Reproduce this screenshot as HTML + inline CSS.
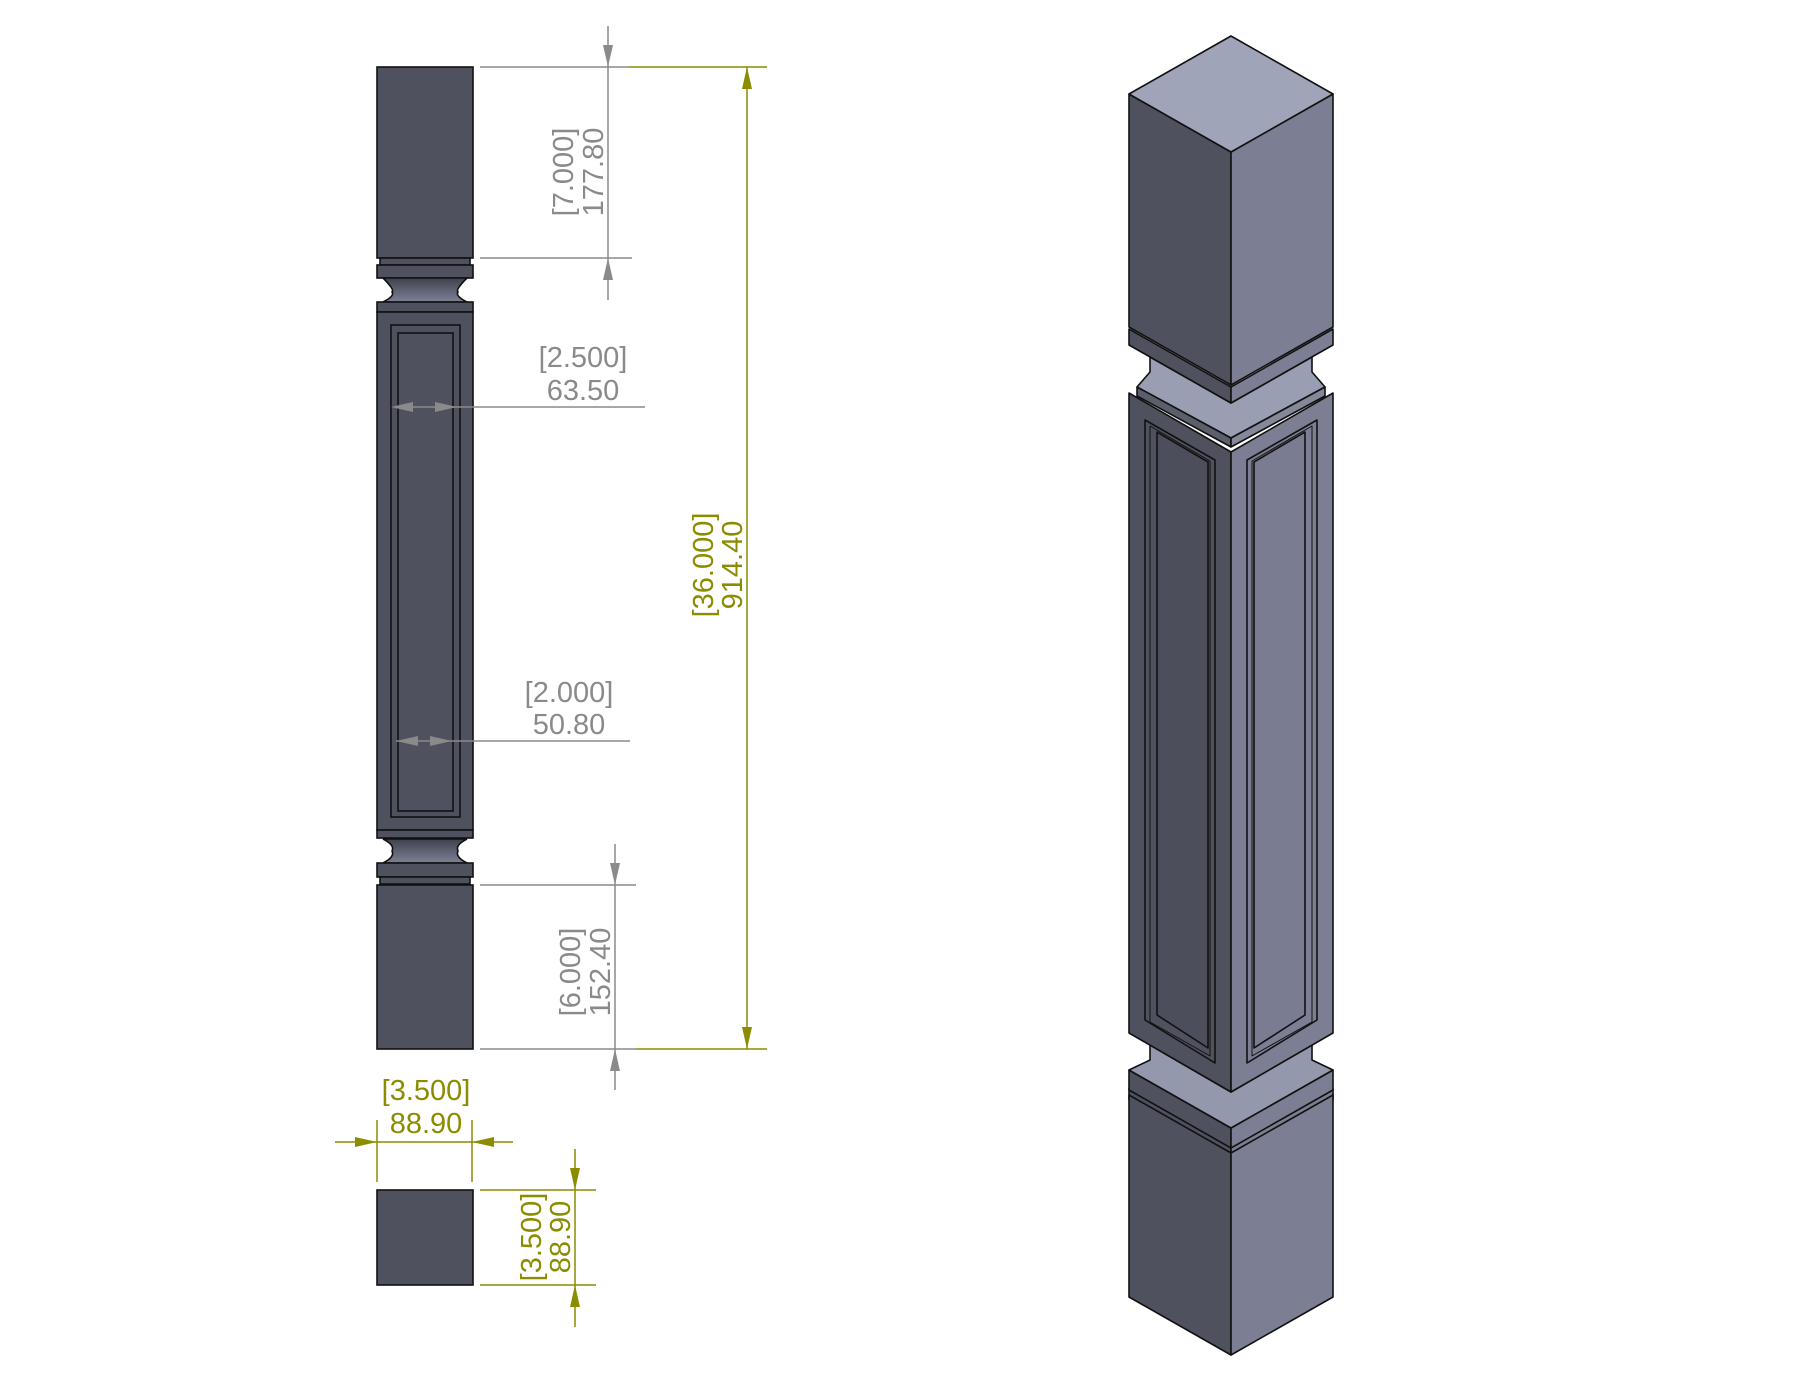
<!DOCTYPE html>
<html><head><meta charset="utf-8"><style>
html,body{margin:0;padding:0;background:#fff;}
svg{display:block;}
text{font-family:"Liberation Sans",sans-serif;font-size:29px;}
.g{fill:#8a8a8a;}
.o{fill:#8c8c00;}
</style></head><body>
<svg width="1800" height="1391" viewBox="0 0 1800 1391" xmlns="http://www.w3.org/2000/svg">
<defs>
<linearGradient id="neck" x1="0" y1="0" x2="0" y2="1"><stop offset="0" stop-color="#3f424d"/><stop offset="1" stop-color="#7d8196"/></linearGradient>
</defs>
<!-- LEFT POST -->
<g stroke="#111" stroke-width="1.6" fill="#4f525e">
<rect x="377" y="67" width="96" height="191"/>
<rect x="380" y="258" width="90" height="7"/>
<rect x="377" y="265" width="96" height="13"/>
<path d="M383 278 L467 278 Q455 290 458 292 Q455 296 467 302 L383 302 Q395 296 392 292 Q395 290 383 278 Z" fill="url(#neck)"/>
<rect x="377" y="302" width="96" height="10"/>
<rect x="377" y="312" width="96" height="518"/>
<rect x="391" y="325" width="69" height="492"/>
<rect x="398" y="333" width="55" height="478"/>
<rect x="377" y="830" width="96" height="8"/>
<path d="M383 839 Q395 845 392 851 Q395 857 383 863 L467 863 Q455 857 458 851 Q455 845 467 839 Z" fill="url(#neck)"/>
<rect x="377" y="863" width="96" height="14"/>
<rect x="380" y="877" width="90" height="7"/>
<rect x="377" y="885" width="96" height="164"/>
<rect x="377" y="1190" width="96" height="95"/>
</g>
<!-- gray dims -->
<g stroke="#8a8a8a" stroke-width="1.5" fill="none">
<line x1="480" y1="67" x2="629" y2="67"/>
<line x1="480" y1="258" x2="632" y2="258"/>
<line x1="608" y1="26" x2="608" y2="300"/>
<line x1="396" y1="407" x2="645" y2="407"/>
<line x1="396" y1="741" x2="630" y2="741"/>
<line x1="480" y1="885" x2="636" y2="885"/>
<line x1="480" y1="1049" x2="636" y2="1049"/>
<line x1="615" y1="844" x2="615" y2="1090"/>
</g>
<g fill="#8a8a8a">
<polygon points="608,67 603,45 613,45"/>
<polygon points="608,258 603,280 613,280"/>
<polygon points="391,407 413,402 413,412"/>
<polygon points="457,407 435,402 435,412"/>
<polygon points="396,741 418,736 418,746"/>
<polygon points="452,741 430,736 430,746"/>
<polygon points="615,885 610,863 620,863"/>
<polygon points="615,1049 610,1071 620,1071"/>
</g>
<!-- olive dims -->
<g stroke="#8c8c00" stroke-width="1.5" fill="none">
<line x1="629" y1="67" x2="767" y2="67"/>
<line x1="636" y1="1049" x2="767" y2="1049"/>
<line x1="747" y1="67" x2="747" y2="1049"/>
<line x1="335" y1="1142" x2="513" y2="1142"/>
<line x1="377" y1="1120" x2="377" y2="1182"/>
<line x1="472" y1="1120" x2="472" y2="1182"/>
<line x1="480" y1="1190" x2="596" y2="1190"/>
<line x1="480" y1="1285" x2="596" y2="1285"/>
<line x1="575" y1="1149" x2="575" y2="1327"/>
</g>
<g fill="#8c8c00">
<polygon points="747,67 742,89 752,89"/>
<polygon points="747,1049 742,1027 752,1027"/>
<polygon points="377,1142 355,1137 355,1147"/>
<polygon points="472,1142 494,1137 494,1147"/>
<polygon points="575,1190 570,1168 580,1168"/>
<polygon points="575,1285 570,1307 580,1307"/>
</g>
<!-- text -->
<text class="g" transform="translate(573,172) rotate(-90)" text-anchor="middle">[7.000]</text>
<text class="g" transform="translate(603,172) rotate(-90)" text-anchor="middle">177.80</text>
<text class="g" x="583" y="367" text-anchor="middle">[2.500]</text>
<text class="g" x="583" y="400" text-anchor="middle">63.50</text>
<text class="g" x="569" y="702" text-anchor="middle">[2.000]</text>
<text class="g" x="569" y="734" text-anchor="middle">50.80</text>
<text class="g" transform="translate(580,972) rotate(-90)" text-anchor="middle">[6.000]</text>
<text class="g" transform="translate(610,972) rotate(-90)" text-anchor="middle">152.40</text>
<text class="o" transform="translate(713,565) rotate(-90)" text-anchor="middle">[36.000]</text>
<text class="o" transform="translate(742,565) rotate(-90)" text-anchor="middle">914.40</text>
<text class="o" x="426" y="1100" text-anchor="middle">[3.500]</text>
<text class="o" x="426" y="1133" text-anchor="middle">88.90</text>
<text class="o" transform="translate(541,1237) rotate(-90)" text-anchor="middle">[3.500]</text>
<text class="o" transform="translate(570,1237) rotate(-90)" text-anchor="middle">88.90</text>

<!-- ISOMETRIC POST -->
<g stroke="#111" stroke-width="1.6" stroke-linejoin="round">
<!-- bottom block + ring -->
<polygon points="1129,1088 1231,1146 1231,1158 1129,1100" fill="#4f525e"/>
<polygon points="1333,1088 1231,1146 1231,1158 1333,1100" fill="#7c7f93"/>
<polygon points="1129,1095 1231,1153 1231,1355 1129,1297" fill="#4f525e"/>
<polygon points="1333,1095 1231,1153 1231,1355 1333,1297" fill="#7c7f93"/>
<!-- lower collar -->
<polygon points="1129,1070 1231,1128 1231,1148 1129,1090" fill="#4f525e"/>
<polygon points="1333,1070 1231,1128 1231,1148 1333,1090" fill="#7c7f93"/>
<polygon points="1129,1070 1150,1060 1150,1045 1231,1092 1312,1045 1312,1060 1333,1070 1231,1128" fill="#9498ad"/>
<!-- panel section -->
<polygon points="1129,393 1231,452 1231,1092 1129,1033" fill="#4f525e"/>
<polygon points="1333,393 1231,452 1231,1092 1333,1033" fill="#7c7f93"/>
<!-- panels left -->
<polygon points="1145,420 1215,460 1215,1063 1145,1020" fill="#4f525e"/>
<polygon points="1150,426 1210,461 1210,1056 1150,1022" fill="none" stroke-width="1"/>
<polygon points="1157,432 1208,462 1208,1048 1157,1015" fill="#4c4f5b"/>
<!-- panels right -->
<polygon points="1317,420 1247,460 1247,1063 1317,1020" fill="#7c7f93"/>
<polygon points="1312,426 1252,461 1252,1056 1312,1022" fill="none" stroke-width="1"/>
<polygon points="1305,432 1254,462 1254,1048 1305,1015" fill="#7a7d91"/>
<!-- upper collar -->
<polygon points="1150,357 1231,403 1312,357 1312,372 1325,387 1231,438 1137,387 1150,372" fill="#9a9eb3"/>
<polygon points="1137,387 1231,438 1231,447 1137,396" fill="#5b5e6b"/>
<polygon points="1325,387 1231,438 1231,447 1325,396" fill="#858899"/>
<!-- ring -->
<polygon points="1129,329 1231,387 1231,403 1129,345" fill="#4f525e"/>
<polygon points="1333,329 1231,387 1231,403 1333,345" fill="#7c7f93"/>
<!-- top block -->
<polygon points="1129,94 1231,152 1231,385 1129,327" fill="#4f525e"/>
<polygon points="1333,94 1231,152 1231,385 1333,327" fill="#7c7f93"/>
<polygon points="1231,36 1333,94 1231,152 1129,94" fill="#a0a4b8"/>
</g>
</svg>
</body></html>
